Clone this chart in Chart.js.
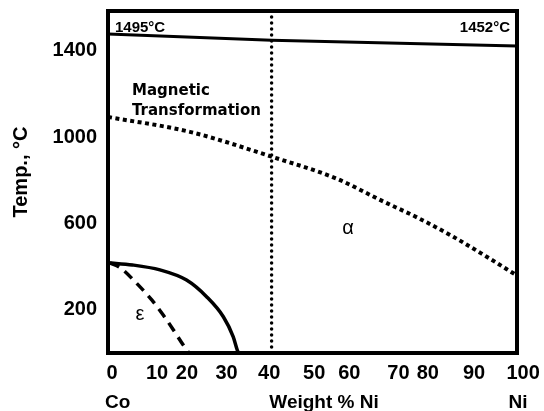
<!DOCTYPE html>
<html>
<head>
<meta charset="utf-8">
<script src="https://cdn.jsdelivr.net/npm/chart.js@4"></script>
<style>
  html, body { margin: 0; padding: 0; background: #fff; }
  #wrap { width: 544px; height: 411px; position: relative; }
</style>
</head>
<body>
<div id="wrap"><canvas id="phaseDiagram" width="544" height="411"></canvas></div>
<script>
// tick positions as they sit in the figure (labels are not evenly spaced)
const xTickValues = [1, 12, 19.3, 29, 39.4, 50.4, 59, 71, 78.2, 89.5, 101.5];
const xTickLabels = ['0', '10', '20', '30', '40', '50', '60', '70', '80', '90', '100'];
const yTickValues = [200, 600, 1000, 1400];
const yTickLabels = ['200', '600', '1000', '1400'];

// liquidus / solidus line near the top
const liquidusNi = [0, 40, 100];
const liquidusTemp = [1478, 1450, 1423];

// magnetic transformation (dotted)
const magneticNi = [0, 20, 40, 55.9, 66.9, 75.7, 84.4, 92.6, 100];
const magneticTemp = [1094, 1025, 910, 808, 706, 627, 539, 446, 359];

// epsilon boundary, solid
const epsSolidNi = [0, 6, 12.7, 19.2, 24.1, 28.2, 30.6, 31.6, 31.9];
const epsSolidTemp = [418, 408, 385, 338, 261, 168, 76, 14, 0];

// epsilon boundary, dashed
const epsDashNi = [0.5, 3, 7, 10.7, 13.5, 16, 18.4, 19.8];
const epsDashTemp = [417, 395, 323, 246, 176, 107, 37, 0];

// vertical dotted line at 40 % Ni
const markerNi = [40, 40];
const markerTemp = [0, 1585];

function pts(xs, ys) {
    return xs.map((x, i) => ({ x: x, y: ys[i] }));
}

const frameAndText = {
    id: 'frameAndText',
    afterDatasetsDraw(chart) {
        const ctx = chart.ctx;
        const a = chart.chartArea;
        ctx.save();
        ctx.strokeStyle = '#000';
        ctx.lineWidth = 4;
        ctx.strokeRect(a.left, a.top, a.right - a.left, a.bottom - a.top);

        ctx.fillStyle = '#000';
        ctx.textBaseline = 'alphabetic';

        ctx.font = 'bold 15px "Liberation Sans", Arial, sans-serif';
        ctx.textAlign = 'left';
        ctx.fillText('1495°C', 115, 32);
        ctx.textAlign = 'right';
        ctx.fillText('1452°C', 510, 32);

        ctx.font = 'bold 15px "DejaVu Sans", sans-serif';
        ctx.textAlign = 'left';
        ctx.fillText('Magnetic', 132, 95);
        ctx.fillText('Transformation', 132, 115);

        ctx.font = '20px "Liberation Sans", Arial, sans-serif';
        ctx.textAlign = 'center';
        ctx.textBaseline = 'middle';
        ctx.fillText('α', 348, 228);
        ctx.fillText('ε', 140, 314);

        ctx.font = 'bold 19px "Liberation Sans", Arial, sans-serif';
        ctx.textBaseline = 'alphabetic';
        ctx.textAlign = 'left';
        ctx.fillText('Co', 105, 408);
        ctx.textAlign = 'center';
        ctx.fillText('Weight % Ni', 324, 408);
        ctx.fillText('Ni', 518, 408);

        ctx.translate(21, 172);
        ctx.rotate(-Math.PI / 2);
        ctx.font = 'bold 20px "Liberation Sans", Arial, sans-serif';
        ctx.textBaseline = 'middle';
        ctx.fillText('Temp., °C', 0, 0);
        ctx.restore();
    }
};

const tickFont = { family: '"Liberation Sans", Arial, sans-serif', size: 20, weight: 'bold' };

new Chart(document.getElementById('phaseDiagram').getContext('2d'), {
    type: 'line',
    data: {
        datasets: [
            {
                data: pts(liquidusNi, liquidusTemp),
                borderColor: '#000',
                borderWidth: 3,
                pointRadius: 0,
                tension: 0
            },
            {
                data: pts(magneticNi, magneticTemp),
                borderColor: '#000',
                borderWidth: 4,
                borderDash: [4, 3.5],
                pointRadius: 0,
                cubicInterpolationMode: 'monotone'
            },
            {
                data: pts(epsSolidNi, epsSolidTemp),
                borderColor: '#000',
                borderWidth: 3.5,
                pointRadius: 0,
                cubicInterpolationMode: 'monotone'
            },
            {
                data: pts(epsDashNi, epsDashTemp),
                borderColor: '#000',
                borderWidth: 3.5,
                borderDash: [10, 7],
                pointRadius: 0,
                cubicInterpolationMode: 'monotone'
            },
            {
                data: pts(markerNi, markerTemp),
                borderColor: '#000',
                borderWidth: 3.5,
                borderDash: [0, 6],
                borderCapStyle: 'round',
                pointRadius: 0,
                tension: 0
            }
        ]
    },
    options: {
        responsive: false,
        animation: false,
        layout: { padding: { left: 0, right: 27, top: 11, bottom: 0 } },
        plugins: {
            legend: { display: false },
            tooltip: { enabled: false }
        },
        scales: {
            x: {
                type: 'linear',
                min: 0,
                max: 100,
                grid: { display: false, drawTicks: false },
                border: { display: false },
                afterBuildTicks: scale => {
                    scale.ticks = xTickValues.map(v => ({ value: v }));
                },
                afterFit: scale => {
                    scale.height = 58;
                    scale.paddingLeft = 0;
                    scale.paddingRight = 0;
                },
                ticks: {
                    color: '#000',
                    font: tickFont,
                    padding: 8,
                    maxRotation: 0,
                    autoSkip: false,
                    callback: (v, i) => xTickLabels[i]
                }
            },
            y: {
                type: 'linear',
                min: 0,
                max: 1585,
                grid: { display: false, drawTicks: false },
                border: { display: false },
                afterBuildTicks: scale => {
                    scale.ticks = yTickValues.map(v => ({ value: v }));
                },
                afterFit: scale => {
                    scale.width = 108;
                    scale.paddingTop = 0;
                    scale.paddingBottom = 0;
                },
                ticks: {
                    color: '#000',
                    font: tickFont,
                    padding: 11,
                    autoSkip: false,
                    callback: (v, i) => yTickLabels[i]
                }
            }
        }
    },
    plugins: [frameAndText]
});
</script>
</body>
</html>
